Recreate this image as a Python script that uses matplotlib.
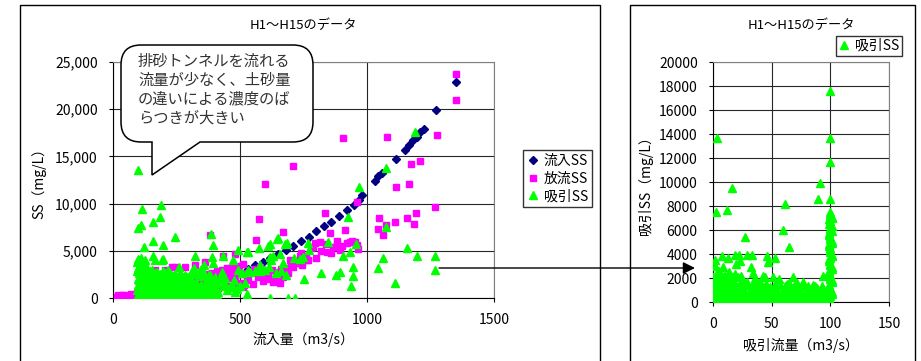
import matplotlib
matplotlib.use("Agg")
import matplotlib.pyplot as plt
from matplotlib.path import Path
from matplotlib.patches import PathPatch, Rectangle
from matplotlib.ticker import FuncFormatter, MultipleLocator

plt.rcParams['font.family'] = ['Noto Sans CJK JP', 'DejaVu Sans']

# ---- 流入SS (inflow SS vs inflow rate)
inflow_q = [30, 60, 100, 150, 200, 250, 300, 350, 400, 450, 500, 530, 560, 590,
            620, 650, 680, 710, 740, 770, 800, 830, 860, 890, 920, 950, 970, 980,
            1030, 1043, 1060, 1114, 1150, 1165, 1180, 1195, 1210, 1225, 1272, 1350]
inflow_ss = [10, 40, 110, 250, 440, 690, 1000, 1350, 1760, 2230, 2750, 3100, 3450, 3850,
             4250, 4650, 5100, 5550, 6000, 6500, 7050, 7600, 8100, 8700, 9300, 9900, 10400, 10900,
             12400, 12900, 13200, 14700, 15700, 16200, 16700, 17100, 17600, 17900, 19900, 22900]

# ---- 放流SS (outflow SS vs inflow rate)
outflow_q = [1350, 1350, 1276, 1078, 906, 710, 1173, 1209, 598, 1114, 1165, 1268,
             1047, 1043, 1063, 1075, 1110, 1157, 1193, 1185, 835, 913, 960, 965,
             575, 669, 563, 382, 815, 866, 894, 933, 953, 787, 768, 736, 709, 685,
             650, 626, 606, 571, 527, 500, 480, 433, 362, 323, 283, 244, 165, 205,
             854, 842, 882, 795, 764, 744, 657, 516, 646, 728, 697, 232,
             15, 25, 35, 45, 55, 65, 75, 85, 20, 30, 40, 50, 60, 70, 80, 90, 95,
             100, 110, 120, 130, 140, 150, 160, 170, 180, 190, 200, 210, 220, 230,
             240, 250, 260, 270, 280, 290, 300, 310, 320, 330, 340, 350, 360, 370,
             380, 390, 400, 410, 420, 430, 440, 450, 460, 470, 480, 490, 505, 510,
             520, 540, 560, 580, 600, 620, 640, 660, 680, 700, 720, 740, 760, 780,
             800, 820, 840, 860, 880, 900, 920, 940, 960,
             105, 125, 145, 165, 185, 215, 235, 265, 295, 325, 355, 385, 415, 445, 475,
             18, 28, 38, 48, 58, 68, 78, 88, 98,
             255, 275, 295, 315, 335, 355, 375, 395, 415, 435, 455, 475, 495,
             512, 530, 550, 570, 590, 610, 630, 652, 670, 690]
outflow_ss = [23700, 21000, 17300, 17100, 17000, 14000, 14200, 14500, 12100, 11800, 12100, 9600,
              8500, 7300, 6700, 7700, 8000, 8500, 9000, 7800, 9000, 7200, 10200, 5200,
              8400, 7000, 6100, 6700, 5900, 5400, 5100, 5900, 5900, 5400, 4000, 4500, 3300, 3200,
              2200, 3000, 2600, 2200, 1900, 1600, 4700, 4400, 3800, 3500, 3300, 3300, 3000, 3000,
              6900, 4900, 5600, 5800, 4000, 3500, 1600, 1400, 2200, 3700, 4000, 3300,
              100, 200, 150, 250, 100, 300, 200, 350, 300, 50, 350, 200, 50, 400, 100, 250, 500,
              150, 600, 300, 700, 400, 900, 500, 1000, 600, 1200, 700, 1300, 800, 1500,
              900, 1600, 1000, 1800, 1100, 1900, 1200, 2000, 1300, 2200, 1400, 2400, 1500, 2500,
              1700, 2700, 1800, 2900, 1900, 3000, 2000, 3200, 2100, 3300, 2300, 3400, 2500, 3600,
              2600, 2900, 3100, 3300, 2300, 2000, 2600, 3100, 2800, 3600, 3900, 4800, 4500, 5300,
              4200, 5000, 5700, 4800, 6000, 5500, 5800, 6000, 5600,
              50, 200, 100, 300, 150, 400, 250, 500, 600, 700, 800, 1000, 1100, 1300, 1400,
              220, 120, 300, 180, 260, 140, 320, 200, 380,
              1400, 1700, 1600, 1900, 2000, 2100, 2300, 2200, 2500, 2600, 2800, 2700, 3000,
              1200, 2000, 1500, 2600, 1800, 2300, 1700, 2800, 2200, 2700]

# ---- 吸引SS (suction SS vs inflow rate)
suction_q = [98, 1189, 1075, 969, 115, 189, 185, 158, 100, 110, 158, 196, 122, 243,
             386, 394, 193, 158, 926, 957, 906, 933, 945, 945, 937, 894, 878, 819,
             752, 847, 768, 772, 685, 713, 748, 650, 618, 575, 528, 492, 472, 527,
             618, 689, 716, 622, 630, 669, 1043, 1063, 1075, 1110, 1157, 1197, 1268, 1268,
             197, 323, 390, 433, 531, 610, 646, 677, 657, 618, 579, 614, 531, 492,
             508, 441, 480, 736, 358, 394, 346, 307, 260, 217, 165, 429, 433, 378,
             402, 433, 476,
             95, 100, 105, 110, 115, 120, 125, 98, 108, 118, 103, 112, 122, 97, 107,
             117, 127, 100, 110, 120, 130, 95, 105, 115, 125, 100, 110, 120, 130, 95,
             135, 145, 155, 165, 175, 185, 195, 205, 215, 225, 235, 245, 255, 265, 275,
             285, 295, 140, 150, 160, 170, 180, 190, 200, 210, 220, 230, 240, 250, 260,
             270, 280, 290, 300, 138, 148, 158, 168, 178, 188, 198, 208, 218, 228, 238,
             248, 258, 268, 278, 288, 298, 143, 153, 163, 173, 183, 193, 203, 213, 223,
             233, 243, 253, 263, 273, 283,
             310, 320, 330, 340, 350, 360, 370, 380, 390, 400, 410, 420, 305, 315, 325,
             335, 345, 355, 365, 375, 385, 395, 405, 415, 310, 330, 350, 370, 390, 410,
             440, 460, 450, 470, 490, 500, 520, 540, 560, 580, 600, 640, 660, 680,
             102, 118, 134, 149, 167, 181, 196, 212, 227, 241, 256, 272, 289, 303, 318,
             334, 349, 364, 381, 396,
             106, 121, 137, 152, 171, 186, 201, 219, 232, 247, 261, 277, 292, 309, 322,
             339, 354, 368, 386, 401,
             104, 124, 141, 157, 174, 189, 206, 221, 237, 252, 266, 282, 297, 313, 328,
             343, 359, 373, 391,
             109, 127, 144, 161, 176, 193, 209, 224, 239, 254, 269, 286, 301, 317, 331,
             347, 362, 378,
             103, 119, 136, 151, 169, 184, 199, 216, 231, 246, 262, 279, 294, 311, 327,
             111, 128, 146, 163, 179, 194, 211, 229, 244, 259, 276, 291,
             96, 104, 113, 121, 129, 101, 117, 109, 125]
suction_ss = [13600, 17600, 13800, 11800, 9400, 9900, 8600, 8100, 7400, 7700, 6000, 5600, 5400, 6500,
              6800, 5600, 4000, 4500, 8600, 5700, 4500, 4900, 3300, 2300, 1300, 2800, 2400, 2600,
              2000, 5900, 5800, 5100, 5800, 4200, 4300, 6400, 5700, 5300, 4900, 5100, 4000, 400,
              0, 0, 0, 4000, 4500, 3700, 3200, 4200, 7500, 1600, 5300, 4500, 4500, 3000,
              4100, 4500, 4300, 4500, 4900, 5500, 6300, 5700, 4700, 4300, 3500, 3300, 3000, 3000,
              2600, 2100, 600, 4100, 3500, 3700, 3100, 2700, 3300, 3000, 4000, 2800, 2300, 2400,
              1600, 1300, 1900,
              3800, 4100, 3600, 4200, 3900, 3500, 4000, 3200, 3000, 2800, 2600, 2300, 2500, 2000, 1800,
              2100, 1700, 1400, 1200, 1500, 1100, 900, 700, 800, 500, 300, 200, 100, 400, 100,
              3100, 2900, 3000, 2600, 2800, 2500, 2900, 2600, 2400, 2700, 2300, 2500, 2200, 2600, 2100,
              2400, 2000, 2200, 1900, 2300, 1700, 2000, 1600, 1900, 1500, 1800, 1400, 1700, 1300, 1600,
              1200, 1500, 1100, 1400, 1300, 1000, 1400, 900, 1200, 800, 1100, 700, 1000, 600, 900,
              500, 800, 400, 700, 300, 600, 500, 300, 600, 200, 400, 100, 300, 150, 350,
              100, 250, 50, 200, 100, 150,
              2900, 3200, 2500, 2800, 2300, 2600, 2000, 2400, 1900, 2200, 1700, 2000, 1800, 1200, 1600,
              1000, 1400, 900, 1300, 800, 1100, 700, 1000, 600, 500, 400, 600, 300, 450, 350,
              1500, 1200, 900, 1400, 1000, 1300, 1600, 2800, 2900, 2900, 3000, 2700, 2900, 2400,
              180, 250, 120, 220, 160, 240, 130, 210, 170, 260, 140, 200, 150, 230, 120,
              190, 160, 240, 110, 200,
              620, 540, 680, 590, 650, 560, 700, 610, 580, 660, 530, 640, 600, 690, 570,
              620, 650, 550, 610, 580,
              1050, 980, 1100, 1020, 960, 1080, 1010, 940, 1060, 990, 1120, 970, 1030, 1000, 1090,
              950, 1040, 980, 1010,
              1480, 1420, 1530, 1390, 1470, 1510, 1440, 1380, 1500, 1460, 1410, 1370, 1490, 1430, 1350,
              1400, 1330, 1360,
              1950, 1880, 1920, 2010, 1860, 1940, 1900, 1830, 1970, 1850, 1890, 1800, 1760, 1820, 1700,
              2450, 2380, 2420, 2350, 2480, 2300, 2360, 2410, 2280, 2330, 2250, 2200,
              2900, 3300, 3700, 3100, 3400, 4000, 3800, 2700, 2900]

# ---- 吸引SS (suction SS vs suction rate)
pump_q = [100, 100, 100, 3.5, 91, 16, 89.5, 100, 2.5, 12, 61, 100, 60, 27, 65,
          7.5, 13, 19, 22, 29, 33, 46, 53, 47, 23, 20, 32, 8.5, 2, 51, 68, 94,
          0, 10, 19, 36, 43, 77, 87, 72, 63,
          0, 2, 4, 6, 8, 10, 12, 14, 16, 18, 20, 22, 24, 26, 28, 30, 32, 34, 36, 38,
          40, 42, 44, 46, 48, 50, 52, 54, 56, 58, 60, 62, 64, 66, 68, 70, 72, 74, 76, 78,
          80, 82, 84, 86, 88, 90, 92, 94, 96, 98,
          1, 3, 5, 7, 9, 11, 13, 15, 17, 19, 21, 23, 25, 27, 29, 31, 33, 35, 37, 39,
          41, 43, 45, 47, 49, 51, 53, 55, 57, 59, 61, 63, 65, 67, 69, 71, 73, 75, 77, 79,
          81, 83, 85, 87, 89, 91, 93, 95, 97,
          1, 3, 5, 7, 9, 11, 13, 15, 17, 21, 25, 29, 35, 40, 45, 5, 2,
          100, 99, 101, 100, 99, 101, 100, 100, 99, 101, 100, 99, 101, 100, 100, 99,
          101, 100, 99, 100, 101, 100, 99, 100, 101,
          1, 5, 9, 13, 17, 21, 25, 29, 33, 37, 41, 45, 49, 53, 57, 61, 65, 69, 73, 77,
          81, 85, 89, 93,
          3, 7, 11, 15, 19, 23, 27, 31, 35, 39, 43, 47, 51, 55, 59, 63, 67, 71, 75, 79,
          83, 87, 91, 95,
          99, 100, 101, 100, 99, 101, 100, 99, 101, 100, 99, 100, 101, 100, 99, 101,
          100, 99, 101, 100, 99, 100, 101, 100,
          4, 14, 24, 34, 44, 56]
pump_ss = [17600, 13700, 11700, 13700, 9900, 9500, 8600, 8600, 7500, 7700, 8200, 7500, 6000, 5400, 4600,
           3800, 3700, 3900, 3900, 3900, 3900, 3800, 3700, 3300, 3400, 3200, 2900, 2900, 3500, 2100, 2100, 2200,
           2100, 2200, 2300, 2000, 2200, 1700, 1300, 1600, 1500,
           1000, 600, 1400, 300, 1100, 800, 1500, 400, 1200, 700, 1300, 200, 1000, 600, 1400, 300, 900, 500, 1200, 200,
           800, 400, 1100, 300, 900, 600, 1000, 200, 700, 400, 900, 300, 600, 1000, 200, 700, 400, 1100, 300, 600,
           900, 200, 500, 800, 300, 600, 200, 900, 400, 300,
           200, 0, 700, 100, 400, 0, 900, 100, 300, 0, 600, 100, 300, 0, 500, 100, 0, 200, 600, 0,
           200, 0, 500, 100, 0, 300, 0, 100, 0, 200, 0, 100, 0, 300, 0, 100, 0, 200, 0, 100,
           0, 200, 0, 100, 0, 300, 0, 100, 0,
           1800, 2400, 2000, 1700, 2200, 1900, 1700, 2100, 1800, 2100, 1800, 1700, 1600, 1700, 1500, 2600, 3000,
           0, 350, 700, 1000, 1300, 1650, 1900, 2250, 2600, 2900, 3200, 3550, 3800, 4150, 4500, 4800,
           5100, 5400, 5750, 6000, 6350, 6600, 6900, 7200, 7000,
           1450, 1300, 1600, 1350, 1500, 1250, 1550, 1400, 1300, 1600, 1350, 1450, 1250, 1500, 1400, 1300,
           1550, 1350, 1250, 1450, 1300, 1400, 1200, 1350,
           850, 780, 900, 820, 760, 880, 800, 740, 860, 790, 830, 770, 890, 810, 750, 840,
           780, 860, 800, 740, 820, 770, 850, 790,
           150, 500, 850, 1150, 1450, 1800, 2050, 2400, 2750, 3050, 3400, 3650, 3950, 4300, 4650, 4950,
           5250, 5550, 5900, 6150, 6500, 6750, 7050, 7350,
           2300, 2500, 2200, 2400, 2100, 1900]

navy = '#000080'
pink = '#FF00FF'
lime = '#00FF00'
grid_c = '#262626'

fig = plt.figure(figsize=(9.21, 3.61), dpi=100)
fig.patch.set_facecolor('white')

W, H = 921, 361


def px_axes(x0, x1, y0, y1):
    return fig.add_axes([x0 / W, (H - y1) / H, (x1 - x0) / W, (y1 - y0) / H])


def style_axes(ax):
    ax.grid(True, color=grid_c, lw=0.8, zorder=0)
    ax.set_axisbelow(True)
    for s in ('top', 'right'):
        ax.spines[s].set_color('#808080')
    for s in ('left', 'bottom'):
        ax.spines[s].set_color('black')
    ax.tick_params(direction='out', length=3, width=0.8, pad=8, labelsize=10, colors='black')


# left chart
ax1 = px_axes(113, 494, 62, 298)
ax1.plot(inflow_q, inflow_ss, ls='none', marker='D', ms=4.5, color=navy, mec=navy, label='流入SS', zorder=3)
ax1.plot(outflow_q, outflow_ss, ls='none', marker='s', ms=5, color=pink, mec=pink, label='放流SS', zorder=4)
ax1.plot(suction_q, suction_ss, ls='none', marker='^', ms=6, color=lime, mec=lime, label='吸引SS', zorder=5)
ax1.set_xlim(0, 1500)
ax1.set_ylim(0, 25000)
ax1.xaxis.set_major_locator(MultipleLocator(500))
ax1.yaxis.set_major_locator(MultipleLocator(5000))
ax1.yaxis.set_major_formatter(FuncFormatter(lambda v, p: f'{int(v):,}'))
style_axes(ax1)
ax1.set_title('H1〜H15のデータ', fontsize=9.5, pad=24)
ax1.set_xlabel('流入量（m3/s）', fontsize=10)
ax1.xaxis.set_label_coords(0.5, -0.145)
ax1.set_ylabel('SS（mg/L）', fontsize=10)
ax1.yaxis.set_label_coords(-0.175, 0.5)
ax1.legend(loc='upper left', bbox_to_anchor=(523 / W, (H - 150) / H), bbox_transform=fig.transFigure,
           frameon=True, fancybox=False, edgecolor='black', fontsize=10, handlelength=0.8,
           handletextpad=0.4, borderpad=0.3, labelspacing=0.25, borderaxespad=0)

# right chart
ax2 = px_axes(713, 889, 62, 302)
ax2.plot(pump_q, pump_ss, ls='none', marker='^', ms=6, color=lime, mec=lime, label='吸引SS', zorder=5)
ax2.set_xlim(0, 150)
ax2.set_ylim(0, 20000)
ax2.xaxis.set_major_locator(MultipleLocator(50))
ax2.yaxis.set_major_locator(MultipleLocator(2000))
style_axes(ax2)
ax2.set_title('H1〜H15のデータ', fontsize=9.5, pad=24)
ax2.set_xlabel('吸引流量（m3/s）', fontsize=10)
ax2.xaxis.set_label_coords(0.5, -0.15)
ax2.set_ylabel('吸引SS（mg/L）', fontsize=10)
ax2.yaxis.set_label_coords(-0.34, 0.5)
ax2.legend(loc='upper left', bbox_to_anchor=(836 / W, (H - 36) / H), bbox_transform=fig.transFigure,
           frameon=True, fancybox=False, edgecolor='black', fontsize=10, handlelength=0.8,
           handletextpad=0.4, borderpad=0.2, borderaxespad=0)

# overlay in pixel coordinates: frames, callout, arrow
ov = fig.add_axes([0, 0, 1, 1], zorder=10)
ov.set_xlim(0, W)
ov.set_ylim(H, 0)
ov.axis('off')
ov.patch.set_alpha(0)

ov.add_patch(Rectangle((20, 5), 580, 400, fill=False, ec='black', lw=1))
ov.add_patch(Rectangle((630, 5), 285, 400, fill=False, ec='black', lw=1))

# speech bubble
x0, x1, y0, y1, r = 121, 313, 45, 142, 20
verts = [(x0 + r, y0), (x1 - r, y0), (x1, y0), (x1, y0 + r),
         (x1, y1 - r), (x1, y1), (x1 - r, y1),
         (200, y1), (152, 175), (152, y1),
         (x0 + r, y1), (x0, y1), (x0, y1 - r),
         (x0, y0 + r), (x0, y0), (x0 + r, y0)]
codes = [Path.MOVETO, Path.LINETO, Path.CURVE3, Path.CURVE3,
         Path.LINETO, Path.CURVE3, Path.CURVE3,
         Path.LINETO, Path.LINETO, Path.LINETO,
         Path.LINETO, Path.CURVE3, Path.CURVE3,
         Path.LINETO, Path.CURVE3, Path.CURVE3]
ov.add_patch(PathPatch(Path(verts, codes), fc='white', ec='black', lw=1.1))

bubble_lines = ['排砂トンネルを流れる', '流量が少なく、土砂量', 'の違いによる濃度のば', 'らつきが大きい']
for i, line in enumerate(bubble_lines):
    ov.text(138, 61 + 19 * i, line, fontsize=11, color='#333333', ha='left', va='center')

ov.annotate('', xy=(695, 268), xytext=(439, 268),
            arrowprops=dict(arrowstyle='-|>', color='black', lw=1, mutation_scale=18,
                            shrinkA=0, shrinkB=0))

fig.savefig('out.png', dpi=100)
